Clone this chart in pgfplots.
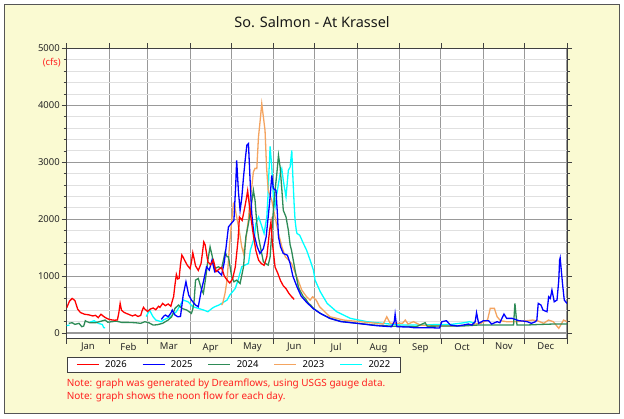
\documentclass[border=0pt]{standalone}
\usepackage{fontspec}
\setmainfont{Noto Sans}
\usepackage{pgfplots}
\pgfplotsset{compat=1.18}
\definecolor{bgyellow}{HTML}{FAFAD2}
\definecolor{framegray}{HTML}{555555}
\definecolor{c26}{HTML}{FF0000}
\definecolor{c25}{HTML}{0000FF}
\definecolor{c24}{HTML}{2E8B57}
\definecolor{c23}{HTML}{F4A460}
\definecolor{c22}{HTML}{00FFFF}
\definecolor{notered}{HTML}{FF2020}
\begin{document}
\begin{tikzpicture}[x=1bp,y=1bp]
\path[use as bounding box] (0,0) rectangle (624,418);
\fill[white] (0,0) rectangle (624,418);
\draw[fill=bgyellow, draw=framegray, line width=1.5bp] (4.5,4.5) rectangle (619.5,413.5);
\node[font=\fontsize{14.5}{17}\selectfont, text=black!90] at (312,396) {So. Salmon - At Krassel};
\node[anchor=east, font=\fontsize{9.5}{11}\selectfont, text=notered, inner sep=0pt] at (61,355.5) {(cfs)};
\node[anchor=west, font=\fontsize{10}{12}\selectfont, text=notered, inner sep=0pt] at (66.7,34.5) {Note: graph was generated by Dreamflows, using USGS gauge data.};
\node[anchor=west, font=\fontsize{10}{12}\selectfont, text=notered, inner sep=0pt] at (66.7,21) {Note: graph shows the noon flow for each day.};
\begin{axis}[
  at={(66.7bp,79.3bp)}, anchor=south west,
  width=500.3bp, height=290.2bp, scale only axis,
  xmin=0, xmax=365, ymin=-100, ymax=5000,
  axis background/.style={fill=white},
  xtick={0,31,59,90,120,151,181,212,243,273,304,334,365},
  xticklabels={},
  extra x ticks={15.5,45,74.5,105,135.5,166,196.5,227.5,258,288.5,319,349.5},
  extra x tick labels={Jan,Feb,Mar,Apr,May,Jun,Jul,Aug,Sep,Oct,Nov,Dec},
  extra x tick style={grid=none, major tick length=0pt, tick style={draw=none}},
  ytick={0,1000,2000,3000,4000,5000},
  minor y tick num=4,
  xmajorgrids, ymajorgrids, yminorgrids,
  major grid style={color=black!40, line width=1.1bp},
  minor grid style={color=black!12, line width=0.9bp},
  axis line style={draw=black!75, line width=1bp},
  tick style={draw=black!75, line width=0.8bp},
  tick align=outside,
  major tick length=5bp, minor tick length=3bp,
  xtick pos=both, ytick pos=both,
  xticklabel pos=left, yticklabel pos=left,
  ticklabel style={font=\fontsize{9.5}{11}\selectfont, text=black!85},
  yticklabel style={xshift=1.5bp},
  xticklabel style={yshift=-1bp},
  /pgf/number format/assume math mode=true,
  /pgf/number format/1000 sep={},
  unbounded coords=jump,
  legend columns=5,
  legend style={at={(0,-0.064)}, anchor=north west, draw=black!75, fill=white,
    line width=0.8bp, font=\fontsize{9.5}{11}\selectfont,
    inner xsep=9bp, inner ysep=1bp,
    nodes={inner xsep=1bp},
    /tikz/every odd column/.append style={column sep=4.7bp},
    /tikz/every even column/.append style={column sep=14.2bp}},
  legend image code/.code={\draw[#1] (0bp,0bp) -- (22bp,0bp);},
  every axis plot/.append style={line width=1.3bp},
]
% 2022
\addplot[c22, forget plot] table {
x y
0 130
2 140
3 nan
17 190
20 216
23 170
26 150
27 95
28 90
29 nan
58 290
60.5 403
62 330
63 286
65 228
69 199
70.5 228
75.5 286
80 374
85 579
88.5 549
92 462
96 433
100 403
103 374
106 433
108 462
111 491
113 521
117 579
119 667
123 784
125 930
127.7 1163
130 1193
132.6 1222
134 1456
137 1689
138 1924
140 2040
142 1900
144 1750
146 2040
146.8 2391
147.5 2800
148.4 3280
149.6 2917
150.8 2391
152 2215
153 2400
155.7 2801
156.9 2889
158 2684
160 2391
161.7 2859
163 2917
164.2 3210
164.9 2801
165.9 2275
166.6 1982
167.5 1807
168 1749
170 1719
172.7 1573
175 1456
177.6 1280
180 1105
181.2 930
185 725
190 521
197 374
207 257
219 199
231 170
243 140
250 140
260 140
270 150
280 150
290 181
294 200
296 181
298 170
};
% 2023
\addplot[c23, forget plot] table {
x y
113 491
113.8 521
115.5 696
117 930
118.7 1514
120.4 1982
121.6 2275
122.4 2245
124 2040
125.8 1807
127.7 1514
129 1400
130.5 1600
131.5 1800
132.5 1982
133.7 2333
135 2566
136.2 2830
137.4 2894
138.7 2889
139.9 3443
141 3700
142.3 4029
143.5 3794
144.7 3560
145.8 2917
147 2508
149.6 2333
152 2040
154.5 1749
157 1514
159.5 1339
162 1280
164 1222
167.9 988
171.5 754
175 637
177.6 579
179.4 637
182 579
184.5 462
187 403
192 286
202 228
214 199
226 170
231 158
233.5 286
236 170
245 170
247 228
249 158
253 199
258 140
268 123
283 123
292 140
302 170
307 228
309 433
312 433
314 286
316.5 216
321 199
328 199
335.5 216
340 228
344 210
348 170
351.5 228
355 199
359 82
362.5 228
365 199
};
% 2024
\addplot[c24, forget plot] table {
x y
1.5 170
4 181
6 152
9 170
11 111
12.4 123
13.6 216
14.8 199
17 180
21 181
24 200
28 228
30 190
33 199
36 210
40 187
45 187
50 181
54 170
57 199
60 180
63 140
66 145
70 170
72 199
74 228
76.6 286
79 433
81.5 491
84 433
87.6 403
91 345
92 420
93 579
94 930
96 959
98.5 754
99.7 696
101.5 988
103 1280
104.6 1514
106 1368
108 1134
110.7 1163
113 1134
114.5 1300
115.6 1420
117 1340
118 1339
120.4 988
122 900
124 930
126.5 871
129 1163
130.7 1689
132.6 1924
134.5 2215
136.2 2508
137.4 2333
138.7 1924
139.9 1689
141.8 1456
143.5 1251
145 1222
147 1193
148.4 1339
150.4 2040
152 2508
153.3 2801
154.5 3122
155.7 2917
157 2508
158 2157
160 2040
161.7 1807
163 1550
164 1456
166.6 1105
169 812
170 754
172.7 637
174 608
176.4 521
178 491
180 433
185 345
192 260
200 205
212 170
226 135
240 118
255 111
261.5 181
263 120
275 123
290 125
300 140
310 140
320 140
326 140
327 521
328.5 140
335 140
345 150
355 158
365 158
};
% 2025
\addplot[c25, forget plot] table {
x y
69 240
71 300
72 316
74 286
76 350
77 403
79 316
81 286
83 290
85 667
87 900
89 667
91 579
93 520
94 491
96 462
98 725
100 930
102 1163
104 1105
106 1280
108 1075
110 1093
113 1017
115 1250
116 1450
118 1865
119 1894
121 1953
122 1980
123.3 2600
124 3034
125.3 2480
126.5 2157
127.7 2368
129 2742
130.2 3035
131.4 3298
132.6 3327
133.8 2684
135 2099
136.5 1749
139 1514
141 1398
143.5 1485
145.5 1689
147 2040
148.4 2391
149.6 2771
150.8 2538
152.7 2508
153.7 2099
154.5 1689
156 1514
158 1398
161 1368
163 1222
165 1000
168 812
171 650
175 540
180 425
185 345
192 257
200 200
212 170
226 129
237 111
239 200
239.6 333
240.5 150
241 111
250 105
253 94
263 94
272 88
273.7 199
277 216
280 140
285 123
289.5 140
293 158
295.6 140
298 199
299 357
300.5 170
304 216
307.8 216
310 158
314 199
316 181
319 333
321 257
325 257
327 240
330 216
333 210
336 199
339 170
342 199
343 228
344 521
346 491
347.5 403
350.4 374
351.6 637
352.8 608
354 754
355.7 549
357.7 579
359 930
359.6 1280
360 1320
361.7 871
363 579
365 521
};
% 2026
\addplot[c26, forget plot] table {
x y
0 440
2 560
4 608
6 570
8 420
10 360
13 330
16 320
19 300
21 310
23 270
25 330
27 290
29 260
31 240
33 230
35 225
37 230
38 350
39 520
40 400
42 360
44 340
46 320
48 300
50 320
52 290
54 310
55 390
56 450
57 420
59 380
61 420
63 440
65 410
67 470
68 450
70 520
72 480
74 510
76 470
77 560
78 640
79 850
80 1030
81 950
82 960
83 1200
84 1370
85 1330
86 1280
88 1190
90 1130
91 1250
92 1410
93 1300
94 1180
96 1100
98 1220
99 1400
100 1600
101 1550
103 1250
105 1200
107 1280
109 1080
111 1120
113 1150
115 1000
117 930
119 880
121 950
123 1160
125 1630
126 2040
128 1980
130 2220
131 2350
132 2500
134 2100
136 1750
138 1450
140 1280
142 1220
144 1190
146 1340
148 1800
149 1950
150 1600
152 1160
154 1050
156 920
158 830
160 780
162 700
164 640
166 590
};
\addlegendimage{c26, line width=1.3bp}\addlegendentry{2026}
\addlegendimage{c25, line width=1.3bp}\addlegendentry{2025}
\addlegendimage{c24, line width=1.3bp}\addlegendentry{2024}
\addlegendimage{c23, line width=1.3bp}\addlegendentry{2023}
\addlegendimage{c22, line width=1.3bp}\addlegendentry{2022}
\end{axis}
\end{tikzpicture}
\end{document}
